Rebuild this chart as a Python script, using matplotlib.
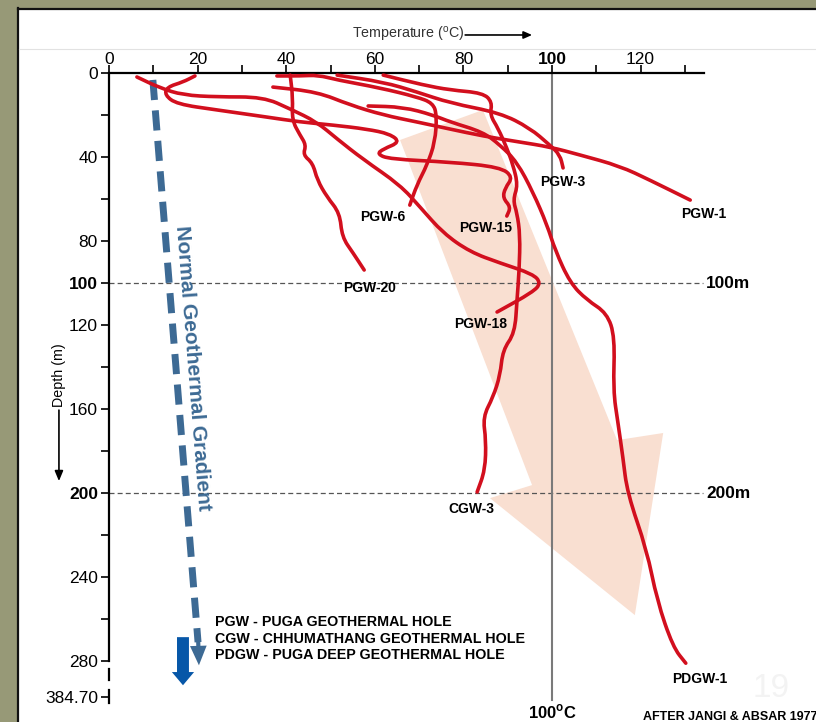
import matplotlib.pyplot as plt
from matplotlib import font_manager
from matplotlib.patches import Polygon, Rectangle, PathPatch
from matplotlib.path import Path
from matplotlib.lines import Line2D

# Temperature (deg C) / depth (m) logs
pgw1_temp = [37.0, 47.0, 54.4, 61.9, 69.5, 77.0, 84.4, 92.8, 99.5, 106.3, 115.3, 122.1, 131.2]
pgw1_depth = [6.7, 9.0, 15.2, 20.0, 23.3, 26.7, 30.0, 32.9, 35.2, 39.0, 44.3, 51.0, 60.5]

pgw3_temp = [51.5, 61.9, 69.5, 77.0, 88.3, 95.0, 99.5, 101.8, 102.5]
pgw3_depth = [1.0, 4.3, 9.0, 14.3, 19.0, 26.2, 34.3, 39.0, 45.2]

pgw6_temp = [37.9, 43.1, 47.2, 51.5, 61.2, 69.5, 73.1, 74.0, 73.6, 71.8, 69.5, 67.9]
pgw6_depth = [1.4, 1.4, 1.0, 3.3, 7.1, 11.4, 14.3, 20.0, 32.9, 43.8, 53.3, 62.9]

pgw15_temp = [19.4, 16.7, 13.1, 12.6, 15.3, 24.4, 35.7, 43.1, 50.6, 58.2, 63.4, 65.7, 61.9,
              60.5, 63.4, 77.0, 88.3, 91.2, 89.4, 88.9, 90.7, 89.8]
pgw15_depth = [1.4, 4.3, 6.7, 10.5, 14.8, 17.6, 21.0, 23.3, 24.8, 26.7, 29.0, 32.9, 36.2,
               38.6, 41.0, 42.4, 44.8, 49.5, 54.8, 59.5, 63.8, 68.1]

pgw18_temp = [6.3, 11.5, 16.7, 24.4, 34.8, 40.9, 46.9, 51.5, 57.3, 65.7, 70.2, 75.4, 81.5,
              88.3, 95.7, 97.5, 95.7, 87.6]
pgw18_depth = [1.9, 7.1, 10.5, 11.4, 11.4, 17.1, 23.3, 31.4, 41.0, 53.3, 63.8, 76.2, 85.2,
               90.5, 95.7, 100.0, 104.3, 113.8]

pgw20_temp = [40.9, 41.5, 41.3, 43.1, 44.5, 43.8, 46.0, 47.0, 49.2, 52.1, 52.6, 55.1, 57.6]
pgw20_depth = [1.0, 11.9, 22.4, 29.5, 34.3, 39.0, 42.9, 50.9, 59.0, 66.7, 78.1, 85.7, 93.8]

cgw3_temp = [61.9, 70.9, 77.0, 84.4, 86.5, 86.0, 87.8, 89.8, 91.2, 92.3, 91.2, 92.1, 92.8,
             92.6, 92.1, 91.6, 88.9, 88.3, 86.7, 84.4, 85.1, 84.9, 83.1]
cgw3_depth = [1.0, 5.7, 8.1, 9.5, 13.8, 20.0, 26.2, 35.7, 43.8, 53.3, 60.5, 66.7, 77.1,
              93.8, 108.1, 123.8, 131.9, 143.8, 154.3, 163.8, 174.8, 189.0, 199.5]

pdgw1_temp = [58.5, 66.4, 73.1, 77.0, 84.4, 88.3, 92.1, 95.7, 98.9, 100.7, 104.1, 107.9, 112.4,
              114.2, 113.8, 114.9, 116.0, 117.0, 121.4, 123.7, 127.3, 130.2]
pdgw1_depth = [15.7, 16.2, 20.0, 23.3, 28.1, 34.3, 42.4, 56.7, 72.4, 84.3, 100.0, 108.1, 114.3,
               125.7, 151.0, 166.7, 182.9, 200.0, 227.1, 251.0, 273.3, 281.0]

# broad "heat flow" arrow outline
flow_temp = [65.7, 84.4, 114.7, 125.1, 118.7, 86.0, 95.5]
flow_depth = [31.9, 17.6, 174.8, 171.4, 258.1, 202.4, 196.2]

# normal geothermal gradient
gradient_temp = [9.9, 20.1]
gradient_depth = [3.3, 271.0]

x_ticks = [0, 20, 40, 60, 80, 100, 120]
y_ticks = [0, 40, 80, 100, 120, 160, 200, 240, 280, 297]
y_tick_labels = ['0', '40', '80', '100', '120', '160', '200', '240', '280', '384.70']

legend_lines = ['PGW - PUGA GEOTHERMAL HOLE',
                'CGW - CHHUMATHANG GEOTHERMAL HOLE',
                'PDGW - PUGA DEEP GEOTHERMAL HOLE']

plt.rcParams['font.family'] = ['Liberation Sans', 'DejaVu Sans']
plt.rcParams['mathtext.fontset'] = 'custom'
plt.rcParams['mathtext.rm'] = 'Liberation Sans'
plt.rcParams['mathtext.bf'] = 'Liberation Sans:bold'
names = {f.name for f in font_manager.fontManager.ttflist}
if 'Liberation Sans Narrow' in names:
    narrow, tick_size, small_size = 'Liberation Sans Narrow', 14.5, 12.5
else:
    narrow, tick_size, small_size = 'Liberation Sans', 12.5, 10.3

RED = '#d20f1e'
BLUE = '#3d6a94'
OLIVE = '#979977'
W, H = 816, 722


def smooth_path(xs, ys):
    # rounded polyline: the read points act as quadratic control points
    pts = list(zip(xs, ys))
    verts = [pts[0]]
    codes = [Path.MOVETO]
    mids = [((a[0] + b[0]) / 2, (a[1] + b[1]) / 2) for a, b in zip(pts[:-1], pts[1:])]
    verts.append(mids[0])
    codes.append(Path.LINETO)
    for i in range(1, len(pts) - 1):
        verts += [pts[i], mids[i]]
        codes += [Path.CURVE3, Path.CURVE3]
    verts.append(pts[-1])
    codes.append(Path.LINETO)
    return Path(verts, codes)


fig = plt.figure(figsize=(W / 100, H / 100), dpi=100)
fig.patch.set_facecolor('white')

# slide frame
fig.add_artist(Rectangle((0, 0), 17 / W, 1, transform=fig.transFigure, color=OLIVE, zorder=-10))
fig.add_artist(Rectangle((0, 1 - 7 / H), 1, 7 / H, transform=fig.transFigure, color=OLIVE, zorder=-10))
fig.add_artist(Line2D([18 / W, 18 / W], [0, 1 - 8 / H], transform=fig.transFigure, color='#111', lw=1.6))
fig.add_artist(Line2D([18 / W, 1], [1 - 8.5 / H] * 2, transform=fig.transFigure, color='#111', lw=1.6))
fig.add_artist(Line2D([19 / W, 1], [1 - 49 / H] * 2, transform=fig.transFigure, color='#e2e2e2', lw=0.8))

ax = fig.add_axes([109 / W, 0, 159.5 * 4.43 / W, (H - 73) / H])
ax.set_xlim(0, 159.5)
ax.set_ylim(309, 0)
ax.patch.set_visible(False)

for side in ['right', 'bottom']:
    ax.spines[side].set_visible(False)
ax.spines['top'].set_bounds(0, 134.3)
ax.spines['left'].set_bounds(0, 280)
ax.spines['top'].set_linewidth(1.6)
ax.spines['left'].set_linewidth(1.6)
# broken axis below 280 m
ax.plot([0, 0], [284, 289], color='k', lw=1.6, clip_on=False)
ax.plot([0, 0], [294, 300], color='k', lw=1.6, clip_on=False)

ax.xaxis.tick_top()
ax.set_xticks(x_ticks)
ax.set_xticklabels([str(t) for t in x_ticks])
ax.set_xticks([10, 30, 50, 70, 90, 110, 130], minor=True)
ax.set_yticks(y_ticks)
ax.set_yticklabels(y_tick_labels)
ax.set_yticks([20, 60, 140, 180, 220, 260], minor=True)
ax.tick_params(axis='both', which='both', direction='out', length=6, width=1.2,
               labelsize=tick_size, pad=2)
ax.tick_params(axis='x', which='both', pad=-1.5)
for lbl in ax.get_xticklabels() + ax.get_yticklabels():
    lbl.set_fontfamily(narrow)
    if lbl.get_text() in ('100', '200'):
        lbl.set_fontweight('bold')

# heat flow arrow
ax.add_patch(Polygon(list(zip(flow_temp, flow_depth)), closed=True,
                     facecolor='#f9dfd1', edgecolor='none', zorder=1))

# reference lines
for d in (100, 200):
    ax.plot([0, 134.1], [d, d], color='#555555', lw=0.9, ls=(0, (4, 2.5)), zorder=2)
    ax.text(134.8, d, f'{d}m', fontsize=12.4, fontweight='bold', ha='left', va='center')
ax.plot([100, 100], [0, 298.5], color='#7a7a7a', lw=1.5, zorder=2)
ax.text(100, 304, r'100$^{\mathbf{o}}$C', fontsize=12, fontweight='bold', ha='center',
        va='center', clip_on=False)

# normal geothermal gradient
ax.plot(gradient_temp, gradient_depth, color=BLUE, lw=5, dashes=(2.9, 1.5),
        solid_capstyle='butt', dash_capstyle='butt', zorder=2.5)
ax.annotate('', xy=(20.3, 282), xytext=(20.1, 268),
            arrowprops=dict(arrowstyle='simple,head_length=1.4,head_width=1.2,tail_width=0.3',
                            mutation_scale=10, color=BLUE, lw=0, shrinkA=0, shrinkB=0),
            zorder=2.5)
ax.text(19.0, 140.5, 'Normal Geothermal Gradient', rotation=-85.5, rotation_mode='anchor',
        ha='center', va='center', fontsize=15, fontweight='bold', color=BLUE)

# well logs
wells = [
    ('PGW-1', pgw1_temp, pgw1_depth, (134.3, 67.1)),
    ('PGW-3', pgw3_temp, pgw3_depth, (102.5, 51.9)),
    ('PGW-6', pgw6_temp, pgw6_depth, (61.9, 68.6)),
    ('PGW-15', pgw15_temp, pgw15_depth, (85.1, 73.8)),
    ('PGW-20', pgw20_temp, pgw20_depth, (58.9, 102.4)),
    ('PGW-18', pgw18_temp, pgw18_depth, (84.0, 119.5)),
    ('CGW-3', cgw3_temp, cgw3_depth, (81.7, 207.6)),
    ('PDGW-1', pdgw1_temp, pdgw1_depth, (133.4, 288.6)),
]
for name, t, d, (lx, ly) in wells:
    ax.add_patch(PathPatch(smooth_path(t, d), fill=False, edgecolor=RED, lw=2.6,
                           capstyle='round', joinstyle='round', zorder=3))
    ax.text(lx, ly, name, fontsize=10, fontweight='bold', ha='center', va='center', zorder=4)

# legend block
for i, line in enumerate(legend_lines):
    ax.text(23.9, 261.4 + 7.9 * i, line, fontsize=10.3, fontweight='bold',
            ha='left', va='center')
ax.annotate('', xy=(16.7, 291.5), xytext=(16.7, 268.6), annotation_clip=False,
            arrowprops=dict(arrowstyle='simple,head_length=0.95,head_width=1.6,tail_width=0.86',
                            mutation_scale=10, color='#0757a8', lw=0, shrinkA=0, shrinkB=0))

# axis titles
ax.text(67.5, -18.1, r'Temperature ($^{\mathrm{o}}$C)', fontsize=small_size, fontfamily=narrow,
        color='#333333', ha='center', va='center', clip_on=False)
ax.annotate('', xy=(95.5, -18.1), xytext=(80.4, -18.1), annotation_clip=False,
            arrowprops=dict(arrowstyle='-|>,head_length=0.5,head_width=0.22',
                            color='k', lw=1.2, shrinkA=0, shrinkB=0))
ax.text(-11.3, 143.8, 'Depth (m)', rotation=90, fontsize=small_size, fontfamily=narrow,
        ha='center', va='center', clip_on=False)
ax.annotate('', xy=(-11.3, 194.3), xytext=(-11.3, 160.5), annotation_clip=False,
            arrowprops=dict(arrowstyle='-|>,head_length=0.6,head_width=0.25',
                            color='k', lw=1.2, shrinkA=0, shrinkB=0))

ax.text(120.5, 306.7, 'AFTER JANGI & ABSAR 1977', fontsize=9, fontweight='bold',
        ha='left', va='center', clip_on=False)
ax.text(149.5, 293, '19', fontsize=24, color='#f3f3f3', ha='center', va='center')

fig.savefig('out.png', dpi=100)
